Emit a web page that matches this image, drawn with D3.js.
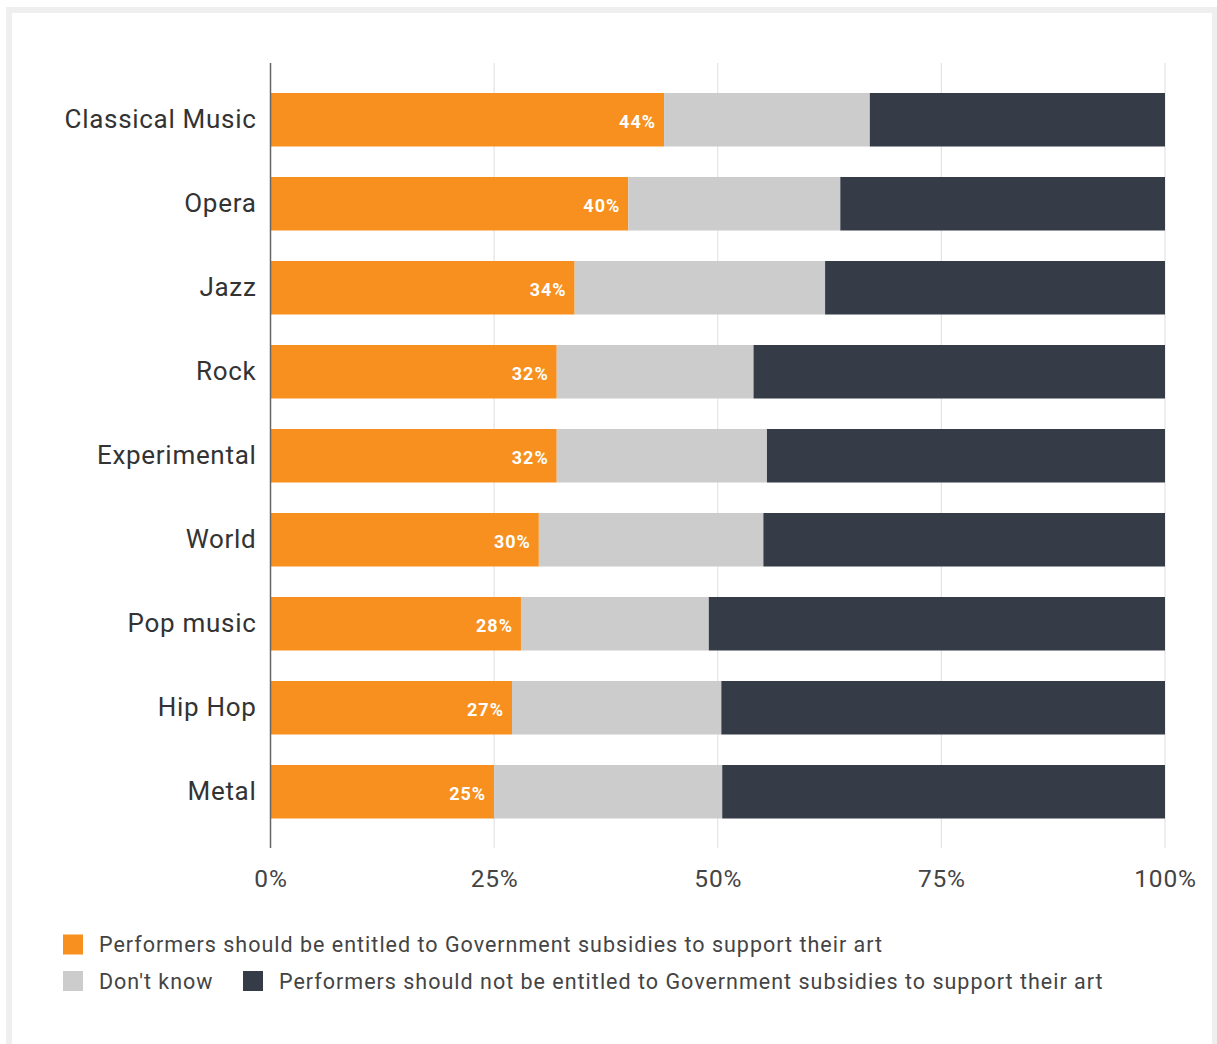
<!DOCTYPE html>
<html>
<head>
<meta charset="utf-8">
<script src="https://cdn.jsdelivr.net/npm/d3@7"></script>
<style>
  html, body { margin: 0; padding: 0; background: #fff; }
  svg { display: block; font-family: Roboto, "Noto Sans", sans-serif; }
</style>
</head>
<body>
<svg id="chart" width="1217" height="1044"></svg>
<script>
// Genres, top to bottom
const genres = ["Classical Music", "Opera", "Jazz", "Rock", "Experimental", "World", "Pop music", "Hip Hop", "Metal"];
// Share (%) saying performers should be entitled to subsidies
const entitled = [44, 40, 34, 32, 32, 30, 28, 27, 25];
// Share (%) answering "Don't know"
const dontKnow = [23, 23.7, 28, 22, 23.5, 25.1, 21, 23.4, 25.5];
// Share (%) saying performers should not be entitled (remainder)
const notEntitled = genres.map((g, i) => 100 - entitled[i] - dontKnow[i]);

const tickValues = [0, 25, 50, 75, 100];
const seriesNames = [
  "Performers should be entitled to Government subsidies to support their art",
  "Don't know",
  "Performers should not be entitled to Government subsidies to support their art"
];
const seriesColors = ["#f7901e", "#cccccc", "#363c47"];

const svg = d3.select("#chart");

// light frame around the card
svg.append("rect")
  .attr("x", 9).attr("y", 10)
  .attr("width", 1206).attr("height", 1100)
  .attr("fill", "#fff")
  .attr("stroke", "#efefef")
  .attr("stroke-width", 6);

const x = d3.scaleLinear().domain([0, 100]).range([270.5, 1165]);
const y = d3.scaleBand().domain(genres).range([77.75, 833.75])
  .paddingInner(0.363).paddingOuter(0.1815);

const gridTop = 63, gridBottom = 848;

// vertical gridlines
svg.append("g").selectAll("line")
  .data(tickValues.slice(1))
  .join("line")
  .attr("x1", d => x(d)).attr("x2", d => x(d))
  .attr("y1", gridTop).attr("y2", gridBottom)
  .attr("stroke", "#e4e4e4").attr("stroke-width", 1.2);

// stacked data
const rows = genres.map((g, i) => ({ genre: g, a: entitled[i], b: dontKnow[i], c: notEntitled[i] }));
const stack = d3.stack().keys(["a", "b", "c"])(rows);

svg.append("g").selectAll("g")
  .data(stack)
  .join("g")
  .attr("fill", (d, i) => seriesColors[i])
  .selectAll("rect")
  .data(d => d)
  .join("rect")
  .attr("x", d => x(d[0]))
  .attr("y", d => y(d.data.genre))
  .attr("width", d => x(d[1]) - x(d[0]))
  .attr("height", y.bandwidth());

// value labels inside the orange segment
svg.append("g").selectAll("text")
  .data(rows)
  .join("text")
  .attr("x", d => x(d.a) - 8)
  .attr("y", d => y(d.genre) + y.bandwidth() / 2 + 1.5)
  .attr("text-anchor", "end")
  .attr("dominant-baseline", "central")
  .attr("fill", "#fff")
  .attr("font-size", 18)
  .attr("font-weight", 700)
  .attr("letter-spacing", 1)
  .text(d => d.a + "%");

// category axis line
svg.append("line")
  .attr("x1", x(0)).attr("x2", x(0))
  .attr("y1", gridTop).attr("y2", gridBottom)
  .attr("stroke", "#666").attr("stroke-width", 1.5);

// category labels
const yAxis = d3.axisLeft(y).tickSize(0).tickPadding(14);
svg.append("g")
  .attr("transform", `translate(${x(0)},0)`)
  .call(yAxis)
  .call(g => g.select(".domain").remove())
  .call(g => g.selectAll("text")
    .attr("font-size", 26)
    .attr("letter-spacing", 0.7)
    .attr("font-family", "Roboto, sans-serif")
    .attr("fill", "#333"));

// percent axis
const xAxis = d3.axisBottom(x).tickValues(tickValues).tickSize(0).tickPadding(0)
  .tickFormat(d => d + "%");
svg.append("g")
  .attr("transform", `translate(0,870)`)
  .call(xAxis)
  .call(g => g.select(".domain").remove())
  .call(g => g.selectAll("text")
    .attr("dy", "0.71em")
    .attr("font-size", 24.5)
    .attr("letter-spacing", 0.8)
    .attr("font-family", "Roboto, sans-serif")
    .attr("fill", "#444"));

// legend
const legendItems = [
  { name: seriesNames[0], color: seriesColors[0], x: 63, y: 944.5 },
  { name: seriesNames[1], color: seriesColors[1], x: 63, y: 981 },
  { name: seriesNames[2], color: seriesColors[2], x: 243, y: 981 }
];
const lg = svg.append("g").selectAll("g")
  .data(legendItems)
  .join("g")
  .attr("transform", d => `translate(${d.x},${d.y})`);
lg.append("rect")
  .attr("x", 0).attr("y", -10)
  .attr("width", 20).attr("height", 20)
  .attr("fill", d => d.color);
lg.append("text")
  .attr("x", 36).attr("y", 0)
  .attr("dominant-baseline", "central")
  .attr("font-size", 21.5)
  .attr("letter-spacing", 1)
  .attr("fill", "#444")
  .text(d => d.name);
</script>
</body>
</html>
